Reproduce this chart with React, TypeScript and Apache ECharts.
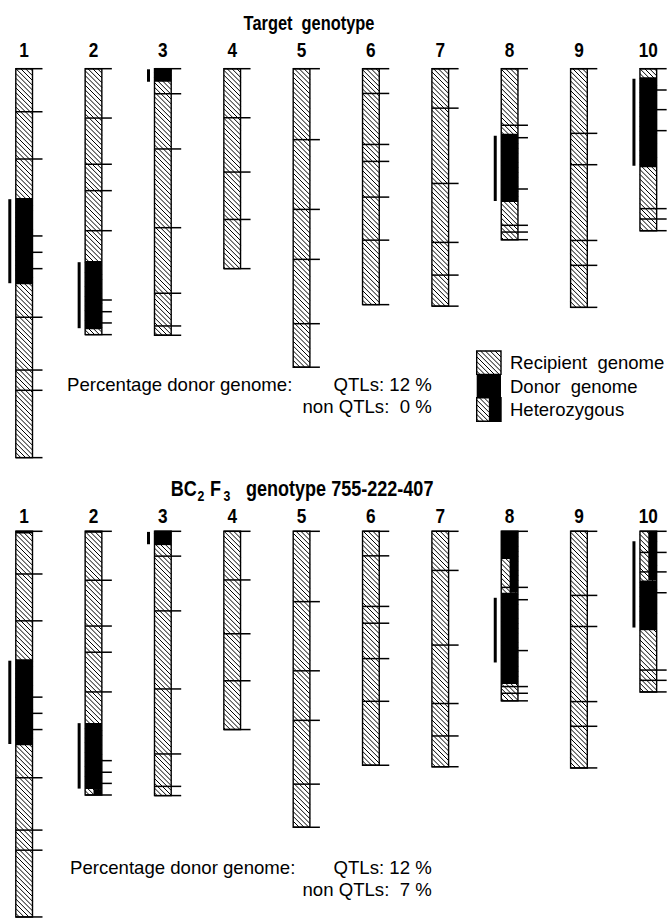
import React, { useEffect, useRef } from "react";
import * as echarts from "echarts";

// ---------------- data (cM from the top of each chromosome) ----------------
const chromosomes = [1, 2, 3, 4, 5, 6, 7, 8, 9, 10];
const chromosomeLengths = [259.3, 177.3, 177.7, 133.3, 199, 157.3, 158.3, 114, 159.1, 108];
const markerPositions = [
  [0, 28.7, 60.2, 111.5, 122.4, 133.3, 165.7, 200.9, 214.4, 259.3],
  [0, 32.9, 63.7, 81.3, 108, 154.2, 162, 169.5, 177.3],
  [0, 16.7, 53.5, 106, 149.7, 171.5, 177.7],
  [0, 32.7, 68.9, 100.5, 133.3],
  [0, 47.3, 93.8, 127.1, 170, 199],
  [0, 16.5, 50.5, 61.8, 85.6, 114.3, 157.3],
  [0, 26.3, 76.5, 115.8, 137.6, 158.3],
  [0, 37.7, 46, 80.2, 104.4, 108.9, 114],
  [0, 43.1, 64, 114.5, 131.1, 159.1],
  [0, 14.2, 27.3, 41.3, 93.3, 100.2, 108],
];
// [chromosome, start cM, end cM]
const qtlRegions = [
  [1, 87, 143],
  [2, 129, 173],
  [3, 0.4, 8.7],
  [8, 44.7, 88.2],
  [10, 6.7, 64.7],
];
const targetDonor = [
  [1, 86.2, 143.7],
  [2, 128.2, 173.7],
  [3, 0, 8.7],
  [8, 43.3, 88.9],
  [10, 5.7, 65.7],
];
const targetHetero: number[][] = [];
const bc2f3Donor = [
  [1, 0, 1.5],
  [1, 86, 143.8],
  [2, 0, 1],
  [2, 128.9, 173.3],
  [3, 0, 9.3],
  [8, 0, 18.7],
  [8, 41.3, 102.7],
  [10, 33.1, 66.5],
];
const bc2f3Hetero = [
  [2, 173.3, 177.3],
  [8, 18.7, 41.3],
  [10, 0, 33.1],
];
const panelTitles = ["Target  genotype", "genotype 755-222-407"];
const donorPctQTL = [12, 12];
const donorPctNonQTL = [0, 7];
const legendLabels = ["Recipient  genome", "Donor  genome", "Heterozygous"];

// ---------------- drawing constants ----------------
const W = 669;
const H = 918;
const BAR_W = 16.7;
const TICK_EXT = 10;
const HATCH_STEP = 4.8;
const Y_MAX = 260;
const PX_PER_CM = 1.5;
const PANEL_TOPS = [68.7, 531.3];
const LABEL_OFFSETS = [18.7, 15.3];
const X_MIN = 0.6518;
const X_MAX = 10.2985;
const SANS = '"Liberation Sans", Arial, sans-serif';
const NARROW_SCALE = 0.82;

function hatchLines(x0: number, y0: number, x1: number, y1: number) {
  const out: any[] = [];
  const nMin = Math.ceil((y0 - x1) / HATCH_STEP);
  const nMax = Math.floor((y1 - x0) / HATCH_STEP);
  for (let n = nMin; n <= nMax; n++) {
    const k = n * HATCH_STEP;
    const xa = Math.max(x0, y0 - k);
    const xb = Math.min(x1, y1 - k);
    if (xb - xa > 0.3) {
      out.push({
        type: "line",
        shape: { x1: xa, y1: xa + k, x2: xb, y2: xb + k },
        style: { stroke: "#000", lineWidth: 1 },
        silent: true,
      });
    }
  }
  return out;
}

function seg(api: any) {
  const chr = api.value(0);
  const a = api.coord([chr, api.value(1)]);
  const b = api.coord([chr, api.value(2)]);
  return { cx: a[0], ya: a[1], yb: b[1], x0: a[0] - BAR_W / 2, x1: a[0] + BAR_W / 2 };
}

const renderRecipient = (_p: any, api: any) => {
  const s = seg(api);
  return {
    type: "group",
    children: [
      { type: "rect", shape: { x: s.x0, y: s.ya, width: BAR_W, height: s.yb - s.ya }, style: { fill: "#fff" } },
      ...hatchLines(s.x0, s.ya, s.x1, s.yb),
    ],
  };
};
const renderDonor = (_p: any, api: any) => {
  const s = seg(api);
  return { type: "rect", shape: { x: s.x0, y: s.ya, width: BAR_W, height: s.yb - s.ya }, style: { fill: "#000" } };
};
const renderHetero = (_p: any, api: any) => {
  const s = seg(api);
  return { type: "rect", shape: { x: s.cx, y: s.ya, width: BAR_W / 2, height: s.yb - s.ya }, style: { fill: "#000" } };
};
const renderQtl = (_p: any, api: any) => {
  const s = seg(api);
  return { type: "rect", shape: { x: s.x0 - 7.5, y: s.ya, width: 3, height: s.yb - s.ya }, style: { fill: "#000" } };
};
const renderMarker = (_p: any, api: any) => {
  const chr = api.value(0);
  const p = api.coord([chr, api.value(1)]);
  return {
    type: "line",
    shape: { x1: p[0] - BAR_W / 2, y1: p[1], x2: p[0] + BAR_W / 2 + TICK_EXT, y2: p[1] },
    style: { stroke: "#000", lineWidth: 1.5 },
  };
};
const makeRenderOutline = (labelOffset: number) => (_p: any, api: any) => {
  const s = seg(api);
  return {
    type: "group",
    children: [
      {
        type: "rect",
        shape: { x: s.x0, y: s.ya, width: BAR_W, height: s.yb - s.ya },
        style: { fill: "none", stroke: "#000", lineWidth: 1.4 },
      },
      {
        type: "text",
        x: s.cx,
        y: s.ya - labelOffset,
        scaleX: NARROW_SCALE,
        style: {
          text: String(api.value(0)),
          font: `bold 21px ${SANS}`,
          fill: "#000",
          align: "center",
          verticalAlign: "middle",
          textAlign: "center",
          textVerticalAlign: "middle",
        },
      },
    ],
  };
};

function panelSeries(p: number, donor: number[][], hetero: number[][]) {
  const base = { type: "custom", coordinateSystem: "cartesian2d", xAxisIndex: p, yAxisIndex: p, clip: false, silent: true };
  const spans = chromosomes.map((c, i) => [c, 0, chromosomeLengths[i]]);
  const marks = chromosomes.flatMap((c, i) => markerPositions[i].map((m) => [c, m]));
  return [
    { ...base, name: `recipient${p}`, data: spans, renderItem: renderRecipient, encode: { x: 0, y: [1, 2] }, z: 2 },
    { ...base, name: `donor${p}`, data: donor, renderItem: renderDonor, encode: { x: 0, y: [1, 2] }, z: 3 },
    { ...base, name: `hetero${p}`, data: hetero, renderItem: renderHetero, encode: { x: 0, y: [1, 2] }, z: 3 },
    { ...base, name: `outline${p}`, data: spans, renderItem: makeRenderOutline(LABEL_OFFSETS[p]), encode: { x: 0, y: [1, 2] }, z: 4 },
    { ...base, name: `markers${p}`, data: marks, renderItem: renderMarker, encode: { x: 0, y: 1 }, z: 5 },
    { ...base, name: `qtl${p}`, data: qtlRegions, renderItem: renderQtl, encode: { x: 0, y: [1, 2] }, z: 5 },
  ];
}

function txt(x: number, y: number, text: string, font: string, align = "left", scaleX = 1) {
  return {
    type: "text",
    x,
    y,
    scaleX,
    silent: true,
    style: { text, font, fill: "#000", align, verticalAlign: "middle", textAlign: align, textVerticalAlign: "middle" },
  };
}

function legendGraphics() {
  const LX = 476.7, LW = 24.3, LY = 351, LH = 23.4;
  const els: any[] = [];
  els.push({ type: "rect", shape: { x: LX, y: LY, width: LW, height: LH }, style: { fill: "#fff" } });
  hatchLines(LX, LY, LX + LW, LY + LH).forEach((l) => els.push(l));
  els.push({ type: "rect", shape: { x: LX, y: LY, width: LW, height: LH }, style: { fill: "none", stroke: "#000", lineWidth: 1.4 } });
  els.push({ type: "rect", shape: { x: LX, y: LY + LH, width: LW, height: LH }, style: { fill: "#000" } });
  hatchLines(LX, LY + 2 * LH, LX + LW / 2, LY + 3 * LH).forEach((l) => els.push(l));
  els.push({ type: "rect", shape: { x: LX + LW / 2, y: LY + 2 * LH, width: LW / 2, height: LH }, style: { fill: "#000" } });
  els.push({ type: "rect", shape: { x: LX, y: LY + 2 * LH, width: LW, height: LH }, style: { fill: "none", stroke: "#000", lineWidth: 1.4 } });
  legendLabels.forEach((lab, i) => els.push(txt(510, LY + LH * (i + 0.5), lab, `18.5px ${SANS}`)));
  return els;
}

function textGraphics() {
  const els: any[] = [];
  const bold20 = `bold 20px ${SANS}`;
  const bold22 = `bold 22px ${SANS}`;
  const sub = `bold 15px ${SANS}`;
  const s = NARROW_SCALE;
  els.push(txt(309, 23, panelTitles[0], bold20, "center", s));
  // BC2 F3 title with subscripts
  els.push(txt(170.7, 488, "BC", bold22, "left", s));
  els.push(txt(197.5, 496, "2", sub, "left", s));
  els.push(txt(210, 488, "F", bold22, "left", s));
  els.push(txt(223.5, 496, "3", sub, "left", s));
  els.push(txt(246, 488, panelTitles[1], bold22, "left", s));
  const reg = `18.6px ${SANS}`;
  const rows = [
    [384, 406],
    [867, 889],
  ];
  [0, 1].forEach((p) => {
    const [y1, y2] = rows[p];
    els.push(txt(p === 0 ? 67 : 70, y1, "Percentage donor genome:", reg));
    els.push(txt(431.7, y1, `QTLs: ${donorPctQTL[p]} %`, reg, "right"));
    els.push(txt(431.7, y2, `non QTLs:  ${donorPctNonQTL[p]} %`, reg, "right"));
  });
  return els;
}

export default function App() {
  const ref = useRef<HTMLDivElement>(null);
  useEffect(() => {
    if (!ref.current) return;
    document.body.style.margin = "0";
    const chart = echarts.init(ref.current, undefined, { renderer: "svg" });
    const option: any = {
      animation: false,
      backgroundColor: "#fff",
      grid: PANEL_TOPS.map((t) => ({ left: 0, right: 0, top: t, height: Y_MAX * PX_PER_CM })),
      xAxis: [0, 1].map((i) => ({ gridIndex: i, type: "value", min: X_MIN, max: X_MAX, show: false })),
      yAxis: [0, 1].map((i) => ({ gridIndex: i, type: "value", min: 0, max: Y_MAX, inverse: true, show: false })),
      series: [...panelSeries(0, targetDonor, targetHetero), ...panelSeries(1, bc2f3Donor, bc2f3Hetero)],
      graphic: [...legendGraphics(), ...textGraphics()],
    };
    chart.setOption(option);
    return () => chart.dispose();
  }, []);
  return <div ref={ref} style={{ position: "absolute", left: 0, top: 0, width: W, height: H }} />;
}
